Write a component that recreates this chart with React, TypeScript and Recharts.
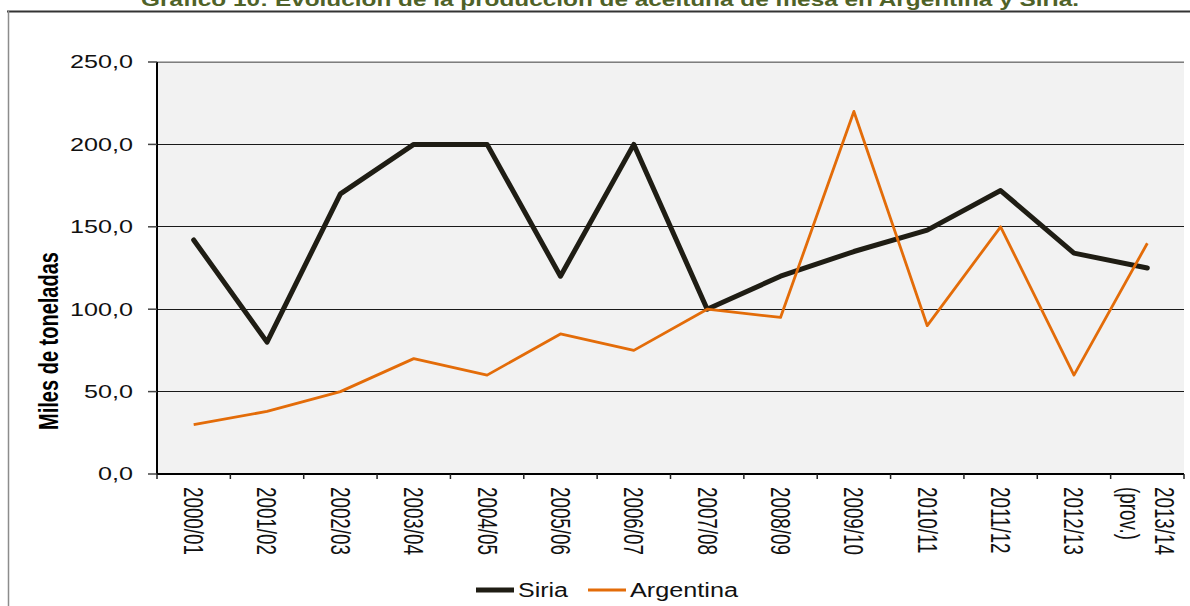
import React from 'react';
import { LineChart, Line, XAxis, YAxis, CartesianGrid, Legend, ReferenceLine } from 'recharts';

// campañas (eje X)
const categories = [
  '2000/01', '2001/02', '2002/03', '2003/04', '2004/05', '2005/06', '2006/07',
  '2007/08', '2008/09', '2009/10', '2010/11', '2011/12', '2012/13', '2013/14 (prov.)',
];

// miles de toneladas
const siria = [142, 80, 170, 200, 200, 120, 200, 100, 120, 135, 148, 172, 134, 125];
const argentina = [30, 38, 50, 70, 60, 85, 75, 100, 95, 220, 90, 150, 60, 140];

const yTicks = [0, 50, 100, 150, 200, 250];

const data = categories.map((periodo, i) => ({
  periodo,
  Siria: siria[i],
  Argentina: argentina[i],
}));

const W = 1190;
const H = 606;
const PLOT_LEFT = 157;
const PLOT_RIGHT = 1184;
const PLOT_TOP = 62;
const PLOT_BOTTOM = 474;
const XAXIS_H = 100;
const HALF_BAND = (PLOT_RIGHT - PLOT_LEFT) / categories.length / 2;

const FONT = '"Liberation Sans", Arial, sans-serif';
const SIRIA_COLOR = '#1f1d14';
const ARG_COLOR = '#e36c09';

const fmt = (v: number) => v.toFixed(1).replace('.', ',');

const YTick = (props: any) => {
  const { x, y, payload } = props;
  return (
    <g transform={`translate(${x},${y}) scale(1.4,1)`}>
      <text textAnchor="end" dy="0.36em" fontSize={18} fill="#111" fontFamily={FONT}>
        {fmt(payload.value)}
      </text>
    </g>
  );
};

const XTick = (props: any) => {
  const { x, y, payload, index } = props;
  const lines = String(payload.value).split(' ');
  const axisY = y - 13;
  return (
    <g>
      <line x1={x - HALF_BAND} x2={x - HALF_BAND} y1={axisY} y2={axisY + 5} stroke="#222" strokeWidth={1.5} />
      {index === categories.length - 1 && (
        <line x1={x + HALF_BAND} x2={x + HALF_BAND} y1={axisY} y2={axisY + 5} stroke="#222" strokeWidth={1.5} />
      )}
      <g transform={`translate(${x},${y}) scale(1.45,1) rotate(90)`}>
        <text textAnchor="start" fontSize={18.8} fill="#111" fontFamily={FONT}>
          {lines.map((l, i) => (
            <tspan key={i} x={0} y={(i - (lines.length - 1) / 2) * 24} dy="0.35em">
              {l}
            </tspan>
          ))}
        </text>
      </g>
    </g>
  );
};

// leyenda: orden y posición de cada serie
const legendNames = ['Siria', 'Argentina'];
const legendX = [476, 588];
const legendTextW = [50, 108];
const legendStroke = [5, 3];

const renderLegend = (props: any) => {
  const { payload } = props;
  const items = legendNames
    .map((name) => (payload || []).find((p: any) => p.value === name))
    .filter(Boolean);
  return (
    <svg width={W} height={34} style={{ display: 'block' }}>
      {items.map((entry: any, i: number) => (
        <g key={entry.value}>
          <line
            x1={legendX[i]}
            x2={legendX[i] + 38}
            y1={18}
            y2={18}
            stroke={entry.color}
            strokeWidth={legendStroke[i]}
          />
          <text
            x={legendX[i] + 42}
            y={25}
            fontSize={20}
            fontFamily={FONT}
            fill="#111"
            textLength={legendTextW[i]}
            lengthAdjust="spacingAndGlyphs"
          >
            {entry.value}
          </text>
        </g>
      ))}
    </svg>
  );
};

export default function App() {
  return (
    <div
      style={{
        position: 'absolute',
        left: 0,
        top: 0,
        width: W,
        height: H,
        background: '#fff',
        overflow: 'hidden',
        fontFamily: FONT,
      }}
    >
      <LineChart
        width={W}
        height={H}
        data={data}
        margin={{ top: PLOT_TOP, right: W - PLOT_RIGHT, bottom: H - PLOT_BOTTOM - XAXIS_H, left: 0 }}
      >
        <CartesianGrid
          vertical={false}
          fill="#f2f2f2"
          stroke="#1a1a1a"
          strokeWidth={1}
          shapeRendering="crispEdges"
        />
        <ReferenceLine y={250} stroke="#a0a0a0" strokeWidth={1.5} />
        <XAxis
          dataKey="periodo"
          height={XAXIS_H}
          interval={0}
          padding={{ left: HALF_BAND, right: HALF_BAND }}
          axisLine={{ stroke: '#000', strokeWidth: 2 }}
          tickLine={false}
          tickSize={0}
          tickMargin={13}
          tick={<XTick />}
        />
        <YAxis
          width={PLOT_LEFT}
          domain={[0, 250]}
          ticks={yTicks}
          interval={0}
          axisLine={{ stroke: '#000', strokeWidth: 2 }}
          tickLine={{ stroke: '#444', strokeWidth: 1.5 }}
          tickSize={9}
          tickMargin={15}
          tick={<YTick />}
        />
        <Legend
          verticalAlign="middle"
          align="center"
          layout="horizontal"
          content={renderLegend}
          wrapperStyle={{ position: 'absolute', left: 0, top: 572, width: W, height: 34 }}
        />
        <Line
          type="linear"
          dataKey="Siria"
          name="Siria"
          stroke={SIRIA_COLOR}
          strokeWidth={5}
          strokeLinejoin="round"
          strokeLinecap="round"
          dot={false}
          activeDot={false}
          isAnimationActive={false}
        />
        <Line
          type="linear"
          dataKey="Argentina"
          name="Argentina"
          stroke={ARG_COLOR}
          strokeWidth={2.8}
          strokeLinejoin="round"
          dot={false}
          activeDot={false}
          isAnimationActive={false}
        />
      </LineChart>

      <svg
        width={W}
        height={H}
        style={{ position: 'absolute', left: 0, top: 0, pointerEvents: 'none' }}
      >
        <text
          x={141}
          y={6}
          fontSize={18}
          fontWeight="bold"
          fill="#4f6228"
          fontFamily={FONT}
          textLength={938}
          lengthAdjust="spacingAndGlyphs"
        >
          Gráfico 10: Evolución de la producción de aceituna de mesa en Argentina y Siria.
        </text>
        <line x1={7} x2={W} y1={11.5} y2={11.5} stroke="#333" strokeWidth={2} />
        <line x1={8.5} x2={8.5} y1={11} y2={H} stroke="#8c8c8c" strokeWidth={1.5} />
        <g transform="translate(48,341) scale(1.4,1) rotate(-90)">
          <text textAnchor="middle" dy="0.35em" fontSize={20} fontWeight="bold" fill="#000" fontFamily={FONT}>
            Miles de toneladas
          </text>
        </g>
      </svg>
    </div>
  );
}
